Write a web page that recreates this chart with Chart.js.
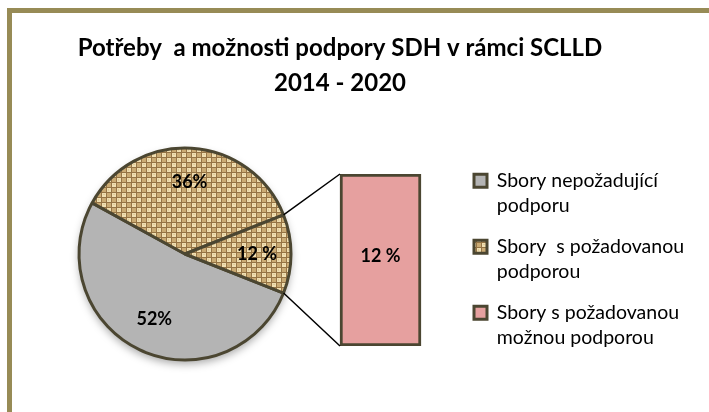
<!DOCTYPE html>
<html>
<head>
<meta charset="utf-8">
<script src="https://cdn.jsdelivr.net/npm/chart.js@4.4.0/dist/chart.umd.min.js"></script>
<style>
  body { margin: 0; width: 709px; height: 412px; overflow: hidden; background: #fff; position: relative; }
  #frame { position: absolute; left: 7px; top: 8px; width: 720px; height: 420px;
           border-left: 5px solid #978b56; border-top: 5px solid #978b56; }
  .box { position: absolute; left: 12px; top: 13px; width: 697px; height: 399px; }
</style>
</head>
<body>
<div id="frame"></div>
<div class="box"><canvas id="barChart"></canvas></div>
<div class="box"><canvas id="pieChart"></canvas></div>
<script>
const titleLines = ['Potřeby  a možnosti podpory SDH v rámci SCLLD', '2014 - 2020'];
const legendLines = [
  ['Sbory nepožadující', 'podporu'],
  ['Sbory  s požadovanou', 'podporou'],
  ['Sbory s požadovanou', 'možnou podporou']
];
const pieValues = [52, 36, 12];
const pieLabels = ['52%', '36%', '12 %'];
const barCategories = ['Sbory s požadovanou možnou podporou'];
const barValues = [12];
const barLabels = ['12 %'];

const edge = '#4b4631';
const gray = '#b4b4b4';
const pink = '#e6a09f';

Chart.defaults.font.family = 'Lato, "Open Sans", sans-serif';
Chart.defaults.color = '#000';

// burlap-like weave
function makeWeave() {
  const tile = document.createElement('canvas');
  tile.width = 10;
  tile.height = 10;
  const c = tile.getContext('2d');
  c.fillStyle = '#957445';
  c.fillRect(0, 0, 10, 10);
  c.fillStyle = '#f0dfb2';
  c.fillRect(0, 0, 4, 4);
  c.fillRect(5, 5, 4, 4);
  c.fillStyle = '#cbab74';
  c.fillRect(5, 0, 4, 4);
  c.fillRect(0, 5, 4, 4);
  c.fillStyle = '#e2cc98';
  c.fillRect(1, 1, 2, 1);
  c.fillRect(6, 6, 1, 2);
  return document.getElementById('pieChart').getContext('2d').createPattern(tile, 'repeat');
}
const weave = makeWeave();

const pieColors = [gray, weave, weave];
const legendColors = [gray, weave, pink];

const barLabelPlugin = {
  id: 'barLabel',
  afterDatasetsDraw(chart) {
    const ctx = chart.ctx;
    chart.getDatasetMeta(0).data.forEach((bar, i) => {
      ctx.save();
      ctx.font = 'bold 18px Lato, sans-serif';
      ctx.fillStyle = '#000';
      ctx.textAlign = 'center';
      ctx.textBaseline = 'middle';
      ctx.fillText(barLabels[i], bar.x, (bar.y + bar.base) / 2 - 4);
      ctx.restore();
    });
  }
};

const hiddenAxis = {
  display: true,
  ticks: { display: false },
  grid: { display: false },
  border: { display: false }
};

const barChart = new Chart(document.getElementById('barChart'), {
  type: 'bar',
  data: {
    labels: barCategories,
    datasets: [{
      data: barValues,
      backgroundColor: pink,
      borderColor: edge,
      borderWidth: 3,
      borderSkipped: false,
      barThickness: 81
    }]
  },
  options: {
    responsive: true,
    maintainAspectRatio: false,
    animation: false,
    events: [],
    layout: { padding: { left: -20, right: 21, top: 0, bottom: 43 } },
    scales: {
      x: { ...hiddenAxis, afterFit(scale) { scale.height = 23; } },
      y: { ...hiddenAxis, min: 0, max: 12, afterFit(scale) { scale.width = 311; } }
    },
    plugins: {
      tooltip: { enabled: false },
      title: {
        display: true,
        text: titleLines,
        font: { size: 24, weight: 'bold', lineHeight: 35 / 24 },
        color: '#000',
        padding: { top: 17.5, bottom: 73.5 }
      },
      legend: {
        display: true,
        position: 'right',
        align: 'end',
        maxWidth: 230,
        labels: {
          boxWidth: 13,
          boxHeight: 13,
          padding: 16,
          font: { size: 19.5, lineHeight: 25 / 19.5 },
          generateLabels() {
            return legendLines.map((lines, i) => ({
              text: lines,
              fillStyle: legendColors[i],
              strokeStyle: edge,
              lineWidth: 3,
              hidden: false,
              index: i
            }));
          }
        }
      }
    }
  },
  plugins: [barLabelPlugin]
});

const pieExtras = {
  id: 'pieExtras',
  beforeDatasetsDraw(chart) {
    const a = chart.getDatasetMeta(0).data[0];
    const ctx = chart.ctx;
    ctx.save();
    ctx.shadowColor = 'rgba(0,0,0,0.35)';
    ctx.shadowBlur = 8;
    ctx.shadowOffsetY = 4;
    ctx.fillStyle = '#fff';
    ctx.beginPath();
    ctx.arc(a.x, a.y, a.outerRadius, 0, Math.PI * 2);
    ctx.fill();
    ctx.restore();
  },
  afterDatasetsDraw(chart) {
    const ctx = chart.ctx;
    const arcs = chart.getDatasetMeta(0).data;
    ctx.save();
    ctx.font = 'bold 18px Lato, sans-serif';
    ctx.fillStyle = '#000';
    ctx.textAlign = 'center';
    ctx.textBaseline = 'middle';
    arcs.forEach((a, i) => {
      const mid = (a.startAngle + a.endAngle) / 2;
      const r = a.outerRadius * 0.68;
      ctx.fillText(pieLabels[i], a.x + Math.cos(mid) * r, a.y + Math.sin(mid) * r);
    });

    // connectors from the split-off slice to the bar
    const last = arcs[arcs.length - 1];
    const bar = barChart.getDatasetMeta(0).data[0];
    const left = bar.x - bar.width / 2;
    ctx.strokeStyle = '#000';
    ctx.lineWidth = 1.5;
    ctx.beginPath();
    ctx.moveTo(last.x + Math.cos(last.startAngle) * last.outerRadius, last.y + Math.sin(last.startAngle) * last.outerRadius);
    ctx.lineTo(left, bar.y);
    ctx.moveTo(last.x + Math.cos(last.endAngle) * last.outerRadius, last.y + Math.sin(last.endAngle) * last.outerRadius);
    ctx.lineTo(left, bar.base);
    ctx.stroke();
    ctx.restore();
  }
};

new Chart(document.getElementById('pieChart'), {
  type: 'pie',
  data: {
    labels: legendLines.map(l => l.join(' ')),
    datasets: [{
      data: pieValues,
      backgroundColor: pieColors,
      borderColor: edge,
      borderWidth: 3
    }]
  },
  options: {
    responsive: true,
    maintainAspectRatio: false,
    animation: false,
    events: [],
    rotation: 111.6,
    layout: { padding: { left: 65.5, right: 416.5, top: 133.5, bottom: 50.5 } },
    plugins: {
      legend: { display: false },
      title: { display: false },
      tooltip: { enabled: false }
    }
  },
  plugins: [pieExtras]
});
</script>
</body>
</html>
